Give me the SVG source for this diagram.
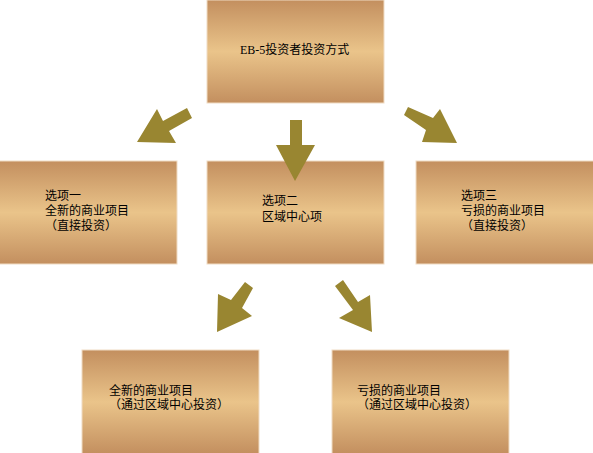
<svg xmlns="http://www.w3.org/2000/svg" width="593" height="453" viewBox="0 0 593 453">
<defs>
<linearGradient id="g" x1="0" y1="0" x2="0" y2="1">
<stop offset="0" stop-color="#c38f5f"/>
<stop offset="0.5" stop-color="#eac48a"/>
<stop offset="1" stop-color="#c38f5f"/>
</linearGradient>
</defs>
<style>
.box{fill:url(#g);stroke:#f0dcc4;stroke-width:1}
.t{font-family:"Liberation Sans","Noto Sans CJK SC",sans-serif;font-size:12px;fill:#000}
.ts{font-family:"Liberation Serif","Noto Sans CJK SC",serif;font-size:12px;fill:#000}
.arrow{fill:#998631}
</style>
<rect width="593" height="453" fill="#fff"/>
<g id="top">
<rect class="box" x="207" y="0" width="177" height="103"/>
<text class="ts" x="240" y="54">EB-5投资者投资方式</text>
</g>
<g id="opt1">
<rect class="box" x="-1" y="161" width="178" height="103"/>
<text class="t" x="45" y="200">选项一</text>
<text class="t" x="45" y="215">全新的商业项目</text>
<text class="t" x="45" y="230">（直接投资）</text>
</g>
<g id="opt2">
<rect class="box" x="207" y="161" width="177" height="103"/>
<text class="t" x="262" y="205">选项二</text>
<text class="t" x="262" y="221">区域中心项</text>
</g>
<g id="opt3">
<rect class="box" x="416" y="161" width="178" height="103"/>
<text class="t" x="461" y="200">选项三</text>
<text class="t" x="461" y="215">亏损的商业项目</text>
<text class="t" x="461" y="230">（直接投资）</text>
</g>
<g id="sub1">
<rect class="box" x="82" y="350" width="177" height="104"/>
<text class="t" x="109" y="395">全新的商业项目</text>
<text class="t" x="109" y="409">（通过区域中心投资）</text>
</g>
<g id="sub2">
<rect class="box" x="332" y="350" width="177" height="104"/>
<text class="t" x="357" y="395">亏损的商业项目</text>
<text class="t" x="357" y="409">（通过区域中心投资）</text>
</g>
<g id="connectors">
<polygon class="arrow" points="137,142 157,109 163,121 187,108 192,118 169,131 176,143"/>
<polygon class="arrow" points="290,120 302,120 302,145 315,145 295,181 276,145 290,145"/>
<polygon class="arrow" points="408,107 433,118 440,109 457,143 422,142 426,130 404,115"/>
<polygon class="arrow" points="245,282 253,288 242,308 252,316 217,332 218,294 231,300"/>
<polygon class="arrow" points="343,280 358,302 370,295 372,332 339,318 353,310 335,286"/>
</g>
</svg>
